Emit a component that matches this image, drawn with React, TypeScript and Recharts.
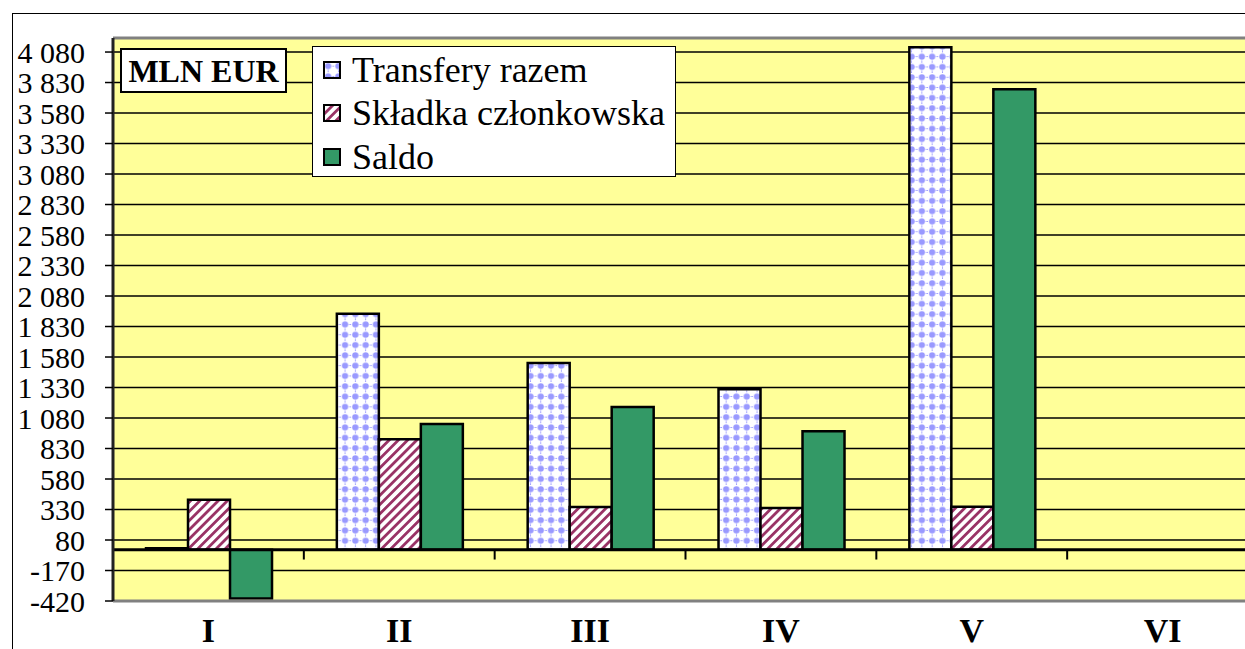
import { ComposedChart, Bar, XAxis, YAxis, CartesianGrid, ReferenceLine } from 'recharts';

const categories = ['I', 'II', 'III', 'IV', 'V', 'VI'];
const transfery = [12, 1935, 1530, 1316, 4120, null];
const skladka = [410, 905, 350, 343, 353, null];
const saldo = [-400, 1030, 1170, 971, 3775, null];
const seriesNames = ['Transfery razem', 'Składka członkowska', 'Saldo'];
const yTicks = [-420, -170, 80, 330, 580, 830, 1080, 1330, 1580, 1830, 2080, 2330, 2580, 2830, 3080, 3330, 3580, 3830, 4080];
const yMin = -420;
const yMax = 4195;
const unitLabel = 'MLN EUR';
// length of the small category ticks below the zero line, in axis units
const catTickLen = 80;

const data = categories.map((c, i) => ({
    name: c,
    transfery: transfery[i],
    skladka: skladka[i],
    saldo: saldo[i],
}));

const serif = 'Liberation Serif, Times New Roman, Tinos, DejaVu Serif, serif';
const fills = ['url(#dots)', 'url(#stripes)', '#339966'];

const fmt = (v: number) => {
    const s = String(Math.abs(v)).replace(/\B(?=(\d{3})+(?!\d))/g, ' ');
    return v < 0 ? '-' + s : s;
};

function Swatch({ fill }: { fill: string }) {
    return (
        <svg width={18} height={18} style={{ display: 'block' }}>
            <rect x={1} y={1} width={16} height={16} fill={fill} stroke="#000" strokeWidth={2} />
        </svg>
    );
}

export default function App() {
    return (
        <div style={{ position: 'fixed', left: 0, top: 0, width: 1245, height: 649, overflow: 'hidden', background: '#fff', fontFamily: serif }}>
            <div style={{ position: 'absolute', left: 12, top: 13, width: 1300, height: 700, borderLeft: '1.5px solid #000', borderTop: '1.5px solid #000' }} />
            <div style={{ position: 'absolute', left: 0, top: 0 }}>
                <ComposedChart
                    width={1270}
                    height={649}
                    data={data}
                    margin={{ top: 38, right: 12, left: 13, bottom: 0 }}
                    barCategoryGap="17.3%"
                    barGap={0}
                    style={{ fontFamily: serif }}
                >
                    <defs>
                        <pattern id="dots" patternUnits="userSpaceOnUse" width={10.3} height={10.3}>
                            <rect width={10.3} height={10.3} fill="#fff" />
                            <path d="M0 5.15 H10.3 M5.15 0 V10.3" stroke="#9999FF" strokeWidth={1} strokeDasharray="1 2" />
                            <circle cx={5.15} cy={5.15} r={3.1} fill="#9999FF" />
                        </pattern>
                        <pattern id="stripes" patternUnits="userSpaceOnUse" width={6.5} height={6.5} patternTransform="rotate(45)">
                            <rect width={6.5} height={6.5} fill="#fff" />
                            <rect x={0} y={0} width={2.8} height={6.5} fill="#993366" />
                        </pattern>
                    </defs>
                    <CartesianGrid vertical={false} stroke="#000" strokeWidth={1.5} fill="#FFFF99" fillOpacity={1} />
                    <XAxis
                        dataKey="name"
                        height={48}
                        axisLine={{ stroke: '#808080', strokeWidth: 3 }}
                        tickLine={false}
                        tickSize={6}
                        tickMargin={11}
                        tick={{ fill: '#000', fontFamily: serif, fontSize: 34, fontWeight: 'bold' }}
                    />
                    <YAxis
                        width={100}
                        domain={[yMin, yMax]}
                        ticks={yTicks}
                        interval={0}
                        allowDataOverflow
                        tickFormatter={fmt}
                        tickSize={8}
                        tickMargin={20}
                        axisLine={{ stroke: '#222', strokeWidth: 3 }}
                        tickLine={{ stroke: '#000', strokeWidth: 1.5 }}
                        tick={{ fill: '#000', fontFamily: serif, fontSize: 30 }}
                    />
                    <Bar dataKey="transfery" name={seriesNames[0]} fill={fills[0]} stroke="#000" strokeWidth={2.5} isAnimationActive={false} />
                    <Bar dataKey="skladka" name={seriesNames[1]} fill={fills[1]} stroke="#000" strokeWidth={2.5} isAnimationActive={false} />
                    <Bar dataKey="saldo" name={seriesNames[2]} fill={fills[2]} stroke="#000" strokeWidth={2.5} isAnimationActive={false} />
                    <ReferenceLine y={yMax} stroke="#808080" strokeWidth={3} />
                    <ReferenceLine y={0} stroke="#000" strokeWidth={3} />
                    {categories.map((c) => (
                        <ReferenceLine
                            key={c}
                            position="start"
                            segment={[{ x: c, y: 0 }, { x: c, y: -catTickLen }]}
                            stroke="#000"
                            strokeWidth={2}
                        />
                    ))}
                </ComposedChart>
            </div>
            {/* unit box */}
            <div
                style={{
                    position: 'absolute', left: 120, top: 48, width: 167, height: 45, boxSizing: 'border-box',
                    background: '#fff', border: '2px solid #000', display: 'flex', alignItems: 'center',
                    justifyContent: 'center', fontFamily: serif, fontWeight: 'bold', fontSize: 32, lineHeight: 1,
                }}
            >
                {unitLabel}
            </div>
            {/* legend */}
            <div
                style={{
                    position: 'absolute', left: 312, top: 46, width: 364, height: 131, boxSizing: 'border-box',
                    background: '#fff', border: '1.5px solid #000', fontFamily: serif, fontSize: 36,
                    paddingTop: 1,
                }}
            >
                {seriesNames.map((n, i) => (
                    <div key={n} style={{ display: 'flex', alignItems: 'center', height: 43.5, paddingLeft: 10 }}>
                        <Swatch fill={fills[i]} />
                        <span style={{ marginLeft: 11, lineHeight: 1, whiteSpace: 'nowrap' }}>{n}</span>
                    </div>
                ))}
            </div>
        </div>
    );
}
